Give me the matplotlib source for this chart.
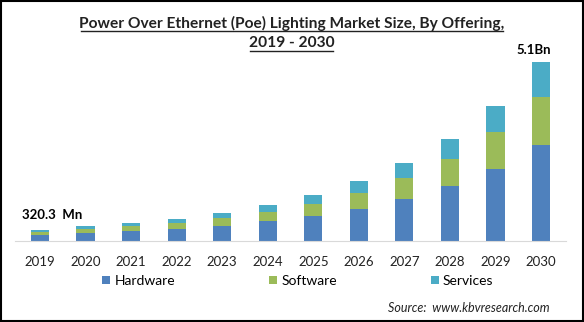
import matplotlib.pyplot as plt
from matplotlib.patches import Rectangle
import numpy as np

years = ['2019', '2020', '2021', '2022', '2023', '2024',
         '2025', '2026', '2027', '2028', '2029', '2030']
# USD million
hardware = [165, 230, 285, 340, 430, 570, 710, 910, 1195, 1565, 2050, 2735]
software = [95, 115, 140, 170, 225, 255, 340, 455, 600, 770, 1055, 1370]
services = [60, 70, 90, 115, 145, 200, 255, 340, 425, 570, 740, 995]
segments = ['Hardware', 'Software', 'Services']
colors = ['#4F81BD', '#9BBB59', '#4BACC6']

plt.rcParams['font.family'] = ['Lato', 'DejaVu Sans']

fig = plt.figure(figsize=(5.84, 3.22), dpi=100)
ax = fig.add_axes([15 / 584, 1 - 241 / 322, 551 / 584, 190 / 322])

x = np.arange(len(years))
bottom = np.zeros(len(years))
for vals, name, c in zip([hardware, software, services], segments, colors):
    ax.bar(x, vals, 0.4, bottom=bottom, color=c, label=name)
    bottom += np.array(vals)

ax.set_xlim(-0.55, len(years) - 0.45)
ax.set_ylim(0, bottom.max() * 190 / 179)
ax.set_yticks([])
for s in ['top', 'right', 'left']:
    ax.spines[s].set_visible(False)
ax.spines['bottom'].set_color('#d9d9d9')
ax.set_xticks(x)
ax.set_xticklabels(years, fontsize=9.5, color='#222222')
ax.tick_params(axis='x', length=0, pad=11)

ax.text(-0.4, bottom[0] + 260, '320.3  Mn', fontsize=9.5, fontweight='bold',
        ha='left', va='bottom')
ax.text(x[-1] - 0.15, bottom[-1] + 170, '5.1Bn', fontsize=9.5, fontweight='bold',
        ha='center', va='bottom')

fig.text(0.5, 1 - 23 / 322, 'Power Over Ethernet (Poe) Lighting Market Size, By Offering,',
         ha='center', va='center', fontsize=11.2, fontweight='bold', color='#222222')
fig.text(0.5, 1 - 43 / 322, '2019 - 2030',
         ha='center', va='center', fontsize=11.2, fontweight='bold', color='#222222')
fig.add_artist(plt.Line2D([81 / 584, 503 / 584], [1 - 30.5 / 322, 1 - 30.5 / 322],
                          color='#222222', lw=1))
fig.add_artist(plt.Line2D([250 / 584, 333 / 584], [1 - 51 / 322, 1 - 51 / 322],
                          color='#222222', lw=1))

fig.legend(loc='center', bbox_to_anchor=(298 / 584, 1 - 281 / 322), ncol=3,
           frameon=False, fontsize=10, handlelength=0.55, handleheight=0.55,
           handletextpad=0.3, columnspacing=6.8)

fig.text(550 / 584, 1 - 308 / 322, 'Source:  www.kbvresearch.com', ha='right',
         va='center', fontsize=9, style='italic', color='#222222')

fig.add_artist(Rectangle((0.001, 0.002), 0.997, 0.995, transform=fig.transFigure,
                         fill=False, edgecolor='black', lw=1.5))

fig.savefig('out.png', dpi=100)
